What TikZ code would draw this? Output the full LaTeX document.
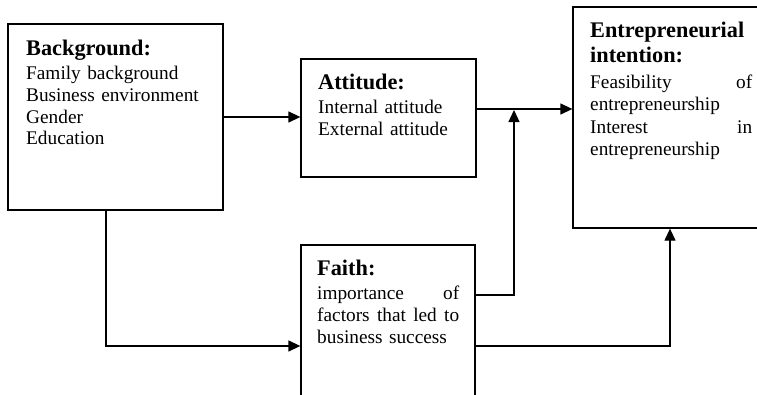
\documentclass[tikz,border=0pt]{standalone}
\usepackage{fontspec}
\setmainfont{Liberation Serif}
\usetikzlibrary{arrows.meta}
\hyphenpenalty=10000
\exhyphenpenalty=10000
\newcommand{\boxhead}[1]{{\fontsize{22.3}{25}\selectfont\bfseries #1}}
\newcommand{\fullline}[2]{\leavevmode\hbox to #1{#2}}
\begin{document}
\begin{tikzpicture}[x=1pt,y=-1pt,
  frame/.style={draw,line width=1.3pt,rectangle,inner sep=0pt},
  label/.style={anchor=north west,inner sep=0pt,align=left,
    font=\fontsize{19.3}{21.8}\selectfont},
  arr/.style={line width=1.3pt,-{Triangle[length=12pt,width=11pt]}}]
\useasboundingbox (0,0) rectangle (757,394);
\clip (0,0) rectangle (757,394);
\fill[white] (0,0) rectangle (757,394);

% boxes
\node[frame,minimum width=215pt,minimum height=186pt] (bg) at (115.5,117) {};
\node[frame,minimum width=175pt,minimum height=118pt] (att) at (388.5,118) {};
\node[frame,minimum width=207pt,minimum height=221pt] (ent) at (676.5,117.5) {};
\node[frame,minimum width=174pt,minimum height=165pt] (fai) at (388,327.5) {};

% box texts
\node[label,text width=190pt] (bgtext) at (26,40)
  {\boxhead{Background:}\\[2pt]
   Family background\\ Business environment\\ Gender\\ Education};
\node[label,text width=150pt] (atttext) at (318,74)
  {\boxhead{Attitude:}\\[2pt]
   Internal attitude\\ External attitude};
\node[label,text width=162pt] (enttext) at (590,22)
  {\boxhead{Entrepreneurial}\\[3.5pt]
   \boxhead{intention:}\\[3.5pt]
   \fullline{162pt}{Feasibility\hfill of}\\ entrepreneurship\\[1.5pt]
   \fullline{162pt}{Interest\hfill in}\\ entrepreneurship};
\node[label,text width=142pt] (faitext) at (317,260)
  {\boxhead{Faith:}\\[2pt]
   \fullline{142pt}{importance\hfill of}\\
   \fullline{142pt}{factors\hfill that\hfill led\hfill to}\\
   business success};

% junction points of the connectors
\coordinate (ja) at (514,109);
\coordinate (jb) at (514,295);
\coordinate (jc) at (670,346);
\coordinate (jd) at (106,346);

% connectors
\draw[arr] (bg.east) -- (bg.east -| att.west);
\draw[arr] (att.east |- ja) -- (ent.west |- ja);
\draw[arr] (fai.east |- jb) -- (jb) -- ([yshift=-1pt]ja);
\draw[arr] (fai.east |- jc) -- (jc) -- (ent.south -| jc);
\draw[arr] (bg.south -| jd) -- (jd) -- (fai.west |- jd);
\end{tikzpicture}
\end{document}
